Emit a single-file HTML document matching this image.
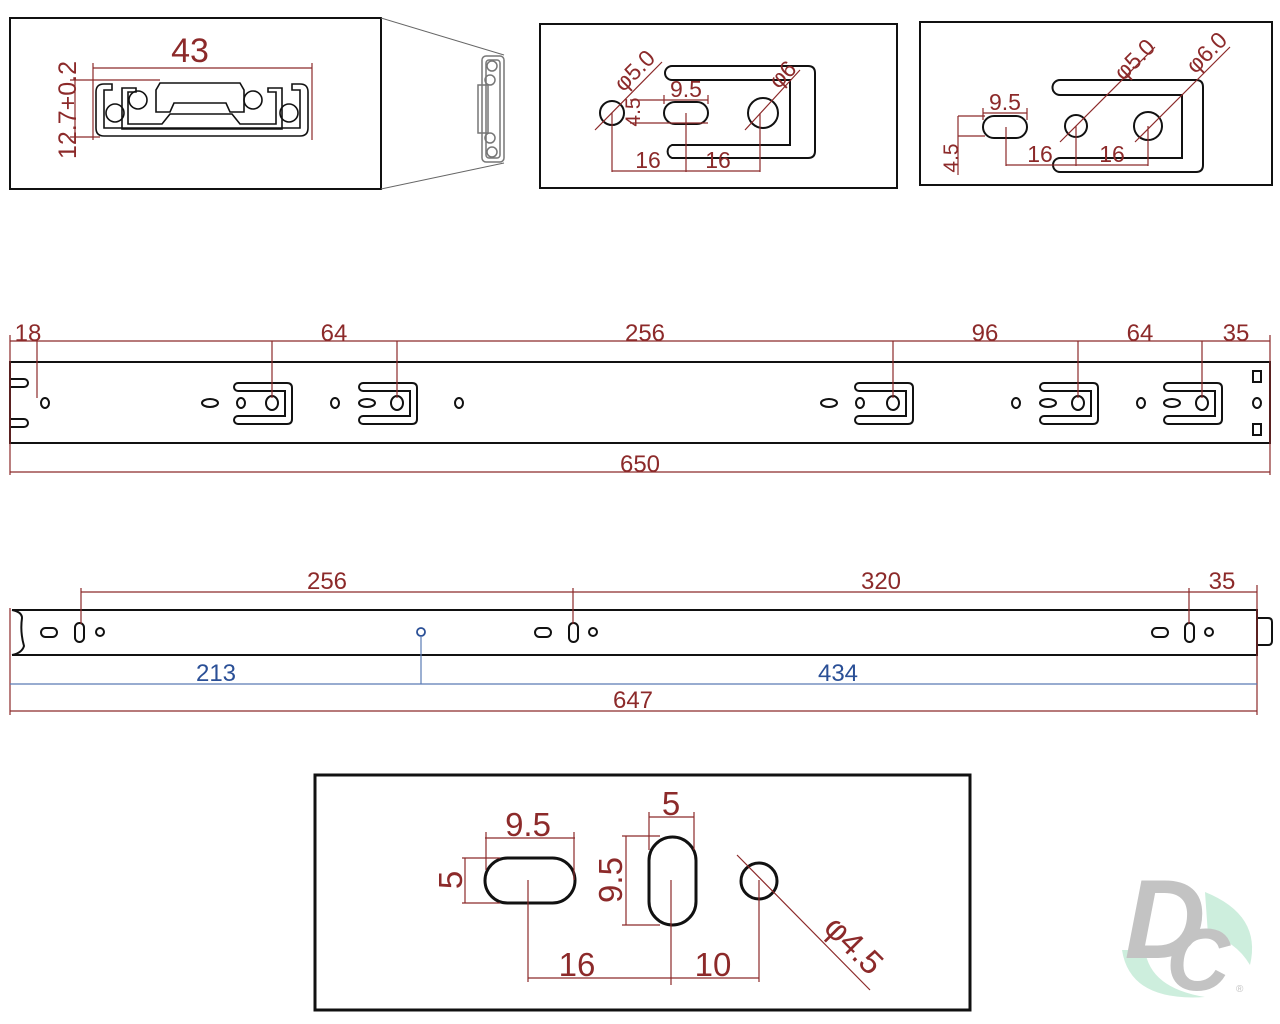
<!DOCTYPE html>
<html><head><meta charset="utf-8"><style>
html,body{margin:0;padding:0;background:#fff;}
svg{display:block;}
text{font-family:"Liberation Sans",sans-serif;}
.r{fill:#8c2a2a;}
.b{fill:#2a4f96;}
.dl{stroke:#8c2a2a;stroke-width:1.2;fill:none;}
.bl{stroke:#5b7bb5;stroke-width:1.2;fill:none;}
.k{stroke:#111;stroke-width:2;fill:none;}
.k3{stroke:#111;stroke-width:3;fill:none;}
</style></head><body>
<svg width="1280" height="1024" viewBox="0 0 1280 1024" xmlns="http://www.w3.org/2000/svg">
<defs>
<g id="br">
 <path class="k" d="M-34,383 H15 Q20,383 20,388 V419 Q20,424 15,424 H-34 A4,4 0 0 1 -34,416 H13 V391 H-34 A4,4 0 0 1 -34,383 Z"/>
 <ellipse cx="0" cy="403" rx="6" ry="7" class="k"/>
</g>
</defs>

<!-- Top-left panel -->
<rect x="10" y="18" width="371" height="171" class="k"/>
<line x1="381" y1="18" x2="504" y2="55" stroke="#666" stroke-width="1"/>
<line x1="381" y1="189" x2="504" y2="163" stroke="#666" stroke-width="1"/>
<g stroke="#777" stroke-width="1.5" fill="none">
 <rect x="482" y="56" width="22" height="106" rx="4"/>
 <rect x="486" y="60" width="14" height="98" rx="3"/>
 <rect x="478" y="85" width="10" height="48"/>
 <circle cx="492" cy="66" r="5"/><circle cx="490" cy="80" r="5"/>
 <circle cx="490" cy="138" r="5"/><circle cx="492" cy="152" r="5"/>
</g>
<text x="190" y="62" class="r" font-size="34" text-anchor="middle">43</text>
<path class="dl" d="M93,68 H312 M93,63 V140 M312,63 V140 M70,80 H160 M70,137 H100 M75,80 V137"/>
<text transform="translate(76,110) rotate(-90)" class="r" font-size="25" text-anchor="middle">12.7+0.2</text>
<g class="k">
 <path d="M102,136 H300 Q308,136 308,128 V92 Q308,84 300,84 H292 V90 H300 V128 H104 V90 H112 V84 H104 Q96,84 96,92 V128 Q96,136 104,136 Z" stroke-width="1.6"/>
 <path d="M122,129 H282 V88 H268 V92 H276 V124 H240 L232,114 H170 L162,124 H128 V92 H136 V88 H122 Z" stroke-width="1.6"/>
 <path d="M160,83 H240 L244,90 V112 H230 L226,103 H174 L170,112 H156 V90 Z" stroke-width="1.6"/>
 <circle cx="115" cy="113" r="9" stroke-width="1.6"/>
 <circle cx="138" cy="100" r="9" stroke-width="1.6"/>
 <circle cx="253" cy="100" r="9" stroke-width="1.6"/>
 <circle cx="289" cy="113" r="9" stroke-width="1.6"/>
</g>

<!-- Top-middle panel -->
<rect x="540" y="24" width="357" height="164" class="k"/>
<path class="k" d="M672,66 H808 Q815,66 815,73 V151 Q815,158 808,158 H672 A7,7 0 0 1 672,145 H790 V80 H672 A7,7 0 0 1 672,66 Z"/>
<circle cx="612" cy="113" r="12" class="k"/>
<rect x="664" y="102" width="44" height="22" rx="11" class="k"/>
<circle cx="763" cy="113" r="15" class="k"/>
<path class="dl" d="M612,113 V172 M686,113 V172 M760,113 V172 M612,171 H760 M630,100 H708 M630,123 H708 M664,95 V104 M708,95 V104 M595,130 L662,62 M745,130 L800,70"/>
<text x="686" y="97" class="r" font-size="23" text-anchor="middle">9.5</text>
<text x="648" y="168" class="r" font-size="23" text-anchor="middle">16</text>
<text x="718" y="168" class="r" font-size="23" text-anchor="middle">16</text>
<text transform="translate(640,76) rotate(-45)" class="r" font-size="23" text-anchor="middle">φ5.0</text>
<text transform="translate(788,80) rotate(-45)" class="r" font-size="23" text-anchor="middle">φ6</text>
<text transform="translate(640,112) rotate(-90)" class="r" font-size="21" text-anchor="middle">4.5</text>

<!-- Top-right panel -->
<rect x="920" y="22" width="352" height="163" class="k"/>
<path class="k" d="M1060,80 H1196 Q1203,80 1203,87 V165 Q1203,172 1196,172 H1060 A7,7 0 0 1 1060,158 H1182 V95 H1060 A7,7 0 0 1 1060,80 Z"/>
<rect x="983" y="116" width="44" height="22" rx="11" class="k"/>
<circle cx="1076" cy="126" r="11" class="k"/>
<circle cx="1148" cy="126" r="14" class="k"/>
<path class="dl" d="M983,113 H1027 M983,108 V120 M1027,108 V120 M958,116 H985 M958,136 H985 M958,116 V175 M1006,127 V166 M1076,126 V166 M1148,126 V166 M1006,165 H1148 M1060,142 L1155,47 M1135,142 L1230,47"/>
<text x="1005" y="110" class="r" font-size="23" text-anchor="middle">9.5</text>
<text transform="translate(958,158) rotate(-90)" class="r" font-size="21" text-anchor="middle">4.5</text>
<text x="1040" y="162" class="r" font-size="23" text-anchor="middle">16</text>
<text x="1112" y="162" class="r" font-size="23" text-anchor="middle">16</text>
<text transform="translate(1140,65) rotate(-45)" class="r" font-size="23" text-anchor="middle">φ5.0</text>
<text transform="translate(1212,58) rotate(-45)" class="r" font-size="23" text-anchor="middle">φ6.0</text>

<!-- Rail 1 -->
<path class="k" d="M10,362 H1270 V443 H10 Z"/>
<path class="k" d="M10,379 H24 A4,4 0 0 1 24,387 H10 M10,419 H24 A4,4 0 0 1 24,427 H10" stroke-width="1.8"/>
<ellipse cx="45" cy="403" rx="4" ry="5" class="k"/>
<use href="#br" x="272"/><ellipse cx="241" cy="403" rx="4" ry="5" class="k"/><ellipse cx="210" cy="403" rx="8" ry="4" class="k"/>
<use href="#br" x="397"/><ellipse cx="367" cy="403" rx="8" ry="4" class="k"/><ellipse cx="335" cy="403" rx="4" ry="5" class="k"/><ellipse cx="459" cy="403" rx="4" ry="5" class="k"/>
<use href="#br" x="893"/><ellipse cx="860" cy="403" rx="4" ry="5" class="k"/><ellipse cx="829" cy="403" rx="8" ry="4" class="k"/>
<use href="#br" x="1078"/><ellipse cx="1048" cy="403" rx="8" ry="4" class="k"/><ellipse cx="1016" cy="403" rx="4" ry="5" class="k"/>
<use href="#br" x="1202"/><ellipse cx="1172" cy="403" rx="8" ry="4" class="k"/><ellipse cx="1141" cy="403" rx="4" ry="5" class="k"/>
<rect x="1253" y="371" width="8" height="11" class="k"/><rect x="1253" y="424" width="8" height="11" class="k"/><ellipse cx="1257" cy="403" rx="4" ry="5" class="k"/>
<path class="dl" d="M10,341 H1270 M10,335 V475 M1270,335 V475 M10,472 H1270 M37,341 V398 M272,341 V398 M397,341 V398 M893,341 V398 M1078,341 V398 M1202,341 V398"/>
<text x="28" y="341" class="r" font-size="24" text-anchor="middle">18</text>
<text x="334" y="341" class="r" font-size="24" text-anchor="middle">64</text>
<text x="645" y="341" class="r" font-size="24" text-anchor="middle">256</text>
<text x="985" y="341" class="r" font-size="24" text-anchor="middle">96</text>
<text x="1140" y="341" class="r" font-size="24" text-anchor="middle">64</text>
<text x="1236" y="341" class="r" font-size="24" text-anchor="middle">35</text>
<text x="640" y="472" class="r" font-size="24" text-anchor="middle">650</text>

<!-- Rail 2 -->
<path class="k" d="M12,610 H1257 V655 H12"/>
<path class="k" d="M12,610 Q22,612 22,618 Q20,632 24,646 Q22,653 12,655" stroke-width="1.8"/>
<path class="k" d="M1257,618 H1268 Q1272,618 1272,622 V641 Q1272,645 1268,645 H1257" stroke-width="1.8"/>
<g class="k">
<rect x="41" y="628" width="16" height="9" rx="4.5"/><rect x="75" y="623" width="9" height="19" rx="4.5"/><circle cx="100" cy="632" r="4"/>
<rect x="535" y="628" width="16" height="9" rx="4.5"/><rect x="569" y="623" width="9" height="19" rx="4.5"/><circle cx="593" cy="632" r="4"/>
<rect x="1152" y="628" width="16" height="9" rx="4.5"/><rect x="1185" y="623" width="9" height="19" rx="4.5"/><circle cx="1209" cy="632" r="4"/>
</g>
<circle cx="421" cy="632" r="4" fill="none" stroke="#2a4f96" stroke-width="1.8"/>
<path class="dl" d="M81,592 H1257 M81,588 V624 M573,588 V624 M1189,588 V624 M1257,585 V715 M10,608 V715 M10,711 H1257"/>
<path class="bl" d="M10,684 H1257 M421,636 V684"/>
<text x="327" y="589" class="r" font-size="24" text-anchor="middle">256</text>
<text x="881" y="589" class="r" font-size="24" text-anchor="middle">320</text>
<text x="1222" y="589" class="r" font-size="24" text-anchor="middle">35</text>
<text x="216" y="681" class="b" font-size="24" text-anchor="middle">213</text>
<text x="838" y="681" class="b" font-size="24" text-anchor="middle">434</text>
<text x="633" y="708" class="r" font-size="24" text-anchor="middle">647</text>

<!-- Bottom panel -->
<rect x="315" y="775" width="655" height="235" class="k3"/>
<rect x="485" y="858" width="90" height="45" rx="22.5" class="k3"/>
<rect x="649" y="837" width="47" height="88" rx="23.5" class="k3"/>
<circle cx="759" cy="881" r="18" class="k3"/>
<path class="dl" d="M485,838 H575 M486,832 V870 M574,832 V880 M462,858 H500 M462,903 H500 M465,858 V903 M649,817 H694 M649,812 V850 M694,812 V850 M622,836 H660 M622,925 H660 M626,836 V925 M528,880 V982 M671,880 V985 M759,880 V982 M528,978 H759 M737,855 L870,990"/>
<text x="528" y="836" class="r" font-size="33" text-anchor="middle">9.5</text>
<text x="671" y="815" class="r" font-size="33" text-anchor="middle">5</text>
<text transform="translate(462,880) rotate(-90)" class="r" font-size="33" text-anchor="middle">5</text>
<text transform="translate(622,880) rotate(-90)" class="r" font-size="33" text-anchor="middle">9.5</text>
<text x="577" y="976" class="r" font-size="33" text-anchor="middle">16</text>
<text x="713" y="976" class="r" font-size="33" text-anchor="middle">10</text>
<text transform="translate(846,953) rotate(45)" class="r" font-size="33" text-anchor="middle">φ4.5</text>

<!-- Logo -->
<path d="M1205,892 Q1262,915 1250,965 Q1235,940 1208,935 Z" fill="#cdeedd"/>
<path d="M1122,950 Q1130,1002 1205,997 Q1150,988 1145,950 Z" fill="#cdeedd"/>
<text x="1165" y="958" font-size="112" font-weight="bold" font-style="italic" fill="#c3c3c3" text-anchor="middle" font-family="Liberation Sans, sans-serif">D</text>
<text x="1198" y="990" font-size="88" font-weight="bold" font-style="italic" fill="#c3c3c3" text-anchor="middle" font-family="Liberation Sans, sans-serif">C</text>
<text x="1236" y="992" font-size="10" fill="#c3c3c3">®</text>
</svg>
</body></html>
